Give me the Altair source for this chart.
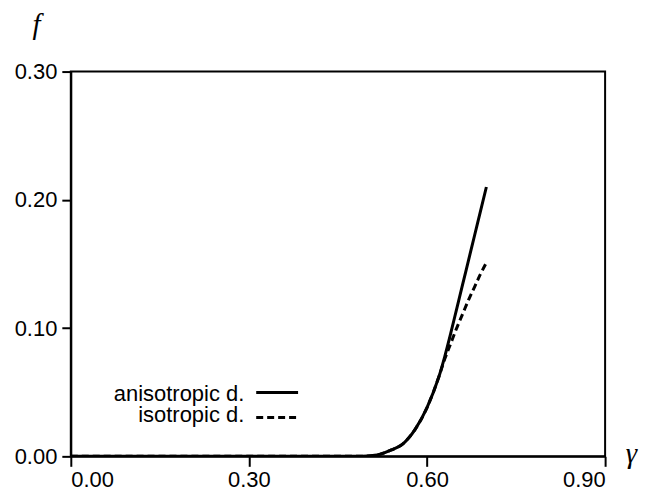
import altair as alt
import pandas as pd

# shared part of both curves (gamma, f)
shared_x = [0.00, 0.10, 0.20, 0.30, 0.40, 0.48, 0.50, 0.52, 0.54, 0.56, 0.58, 0.60, 0.62]
shared_y = [0.000, 0.000, 0.000, 0.000, 0.000, 0.000, 0.0003, 0.0015, 0.005, 0.010, 0.021, 0.038, 0.062]

aniso_x = [0.63, 0.64, 0.65, 0.66, 0.67, 0.68, 0.69, 0.70]
aniso_y = [0.078, 0.096, 0.115, 0.134, 0.153, 0.172, 0.191, 0.210]

iso_x = [0.63, 0.64, 0.65, 0.66, 0.67, 0.68, 0.69, 0.70]
iso_y = [0.076, 0.088, 0.100, 0.111, 0.122, 0.132, 0.142, 0.151]

series = ["anisotropic d.", "isotropic d."]
x_ticks = [0.0, 0.3, 0.6, 0.9]
y_ticks = [0.0, 0.1, 0.2, 0.3]

rows = []
for s, xs, ys in [(series[0], aniso_x, aniso_y), (series[1], iso_x, iso_y)]:
    for i, (a, b) in enumerate(zip(shared_x + xs, shared_y + ys)):
        rows.append({"series": s, "gamma": a, "f": b, "order": i})
df = pd.DataFrame(rows)

W, H = 536, 386
FONT = "Liberation Sans"

xscale = alt.Scale(domain=[0, 0.9], nice=False, zero=False)
yscale = alt.Scale(domain=[0, 0.3], nice=False, zero=False)

xaxis = alt.Axis(values=x_ticks, format=".2f", grid=False, title="γ",
                 titleAngle=0, titleX=W + 26, titleY=6, titleBaseline="alphabetic",
                 titleFont="Liberation Serif", titleFontStyle="italic",
                 titleFontWeight="normal", titleFontSize=29, titleAlign="center",
                 labelFontSize=22, labelFont=FONT, labelColor="black",
                 tickSize=10, tickWidth=2, tickColor="black", domainColor="black",
                 domainWidth=2, labelPadding=3)
yaxis = alt.Axis(values=y_ticks, format=".2f", grid=False, title="f",
                 titleAngle=0, titleX=-35, titleY=-38, titleBaseline="alphabetic",
                 titleFont="Liberation Serif", titleFontStyle="italic",
                 titleFontWeight="normal", titleFontSize=29, titleAlign="center",
                 labelFontSize=22, labelFont=FONT, labelColor="black",
                 tickSize=9, tickWidth=2, tickColor="black", domainColor="black",
                 domainWidth=2, labelPadding=5)

base = alt.Chart(df)

solid = base.transform_filter(alt.datum.series == series[0]).mark_line(
    color="black", strokeWidth=3, interpolate="monotone", clip=True
).encode(
    x=alt.X("gamma:Q", scale=xscale, axis=xaxis),
    y=alt.Y("f:Q", scale=yscale, axis=yaxis),
    order="order:Q",
)
dashed = base.transform_filter(alt.datum.series == series[1]).mark_line(
    color="black", strokeWidth=3, strokeDash=[7, 4], interpolate="monotone", clip=True
).encode(
    x=alt.X("gamma:Q", scale=xscale),
    y=alt.Y("f:Q", scale=yscale),
    order="order:Q",
)

leg = pd.DataFrame({"label": series})
t1 = alt.Chart(leg).transform_filter(alt.datum.label == series[0]).mark_text(
    align="right", baseline="alphabetic", font=FONT, fontSize=22, color="black"
).encode(text="label:N", x=alt.value(174), y=alt.value(330))
t2 = alt.Chart(leg).transform_filter(alt.datum.label == series[1]).mark_text(
    align="right", baseline="alphabetic", font=FONT, fontSize=22, color="black"
).encode(text="label:N", x=alt.value(174), y=alt.value(352))
r1 = alt.Chart(leg).transform_filter(alt.datum.label == series[0]).mark_rule(
    color="black", strokeWidth=3
).encode(x=alt.value(186), x2=alt.value(228), y=alt.value(322))
r2 = alt.Chart(leg).transform_filter(alt.datum.label == series[1]).mark_rule(
    color="black", strokeWidth=3, strokeDash=[7, 4]
).encode(x=alt.value(186), x2=alt.value(228), y=alt.value(347))

chart = alt.layer(solid, dashed, t1, t2, r1, r2).properties(
    width=W, height=H,
    autosize=alt.AutoSizeParams(type="none"),
    padding={"left": 63, "top": 63, "right": 34, "bottom": 34},
    background="white",
).configure_view(stroke="black", strokeWidth=2)

chart.save("out.html", embed_options={"renderer": "svg", "actions": False})
